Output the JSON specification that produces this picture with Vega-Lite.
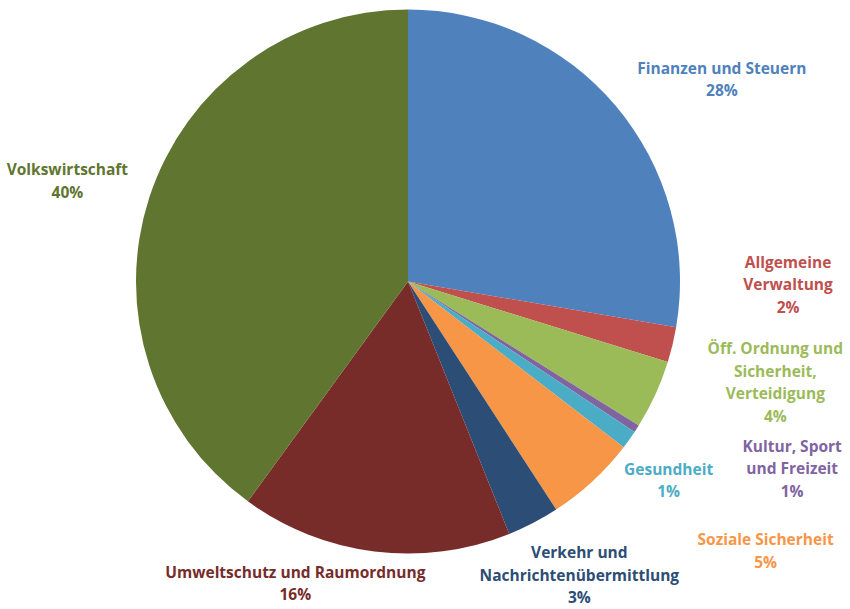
{
  "$schema": "https://vega.github.io/schema/vega-lite/v6.json",
  "width": 816,
  "height": 563,
  "autosize": {"type": "none"},
  "padding": {"left": 0, "top": 0, "right": 34, "bottom": 46},
  "background": "white",
  "config": {"view": {"stroke": null}, "text": {"font": "Open Sans", "fontWeight": "bold", "fontSize": 15.5, "lineHeight": 22.5, "align": "center", "baseline": "middle"}},
  "data": {
    "values": [
      {"order": 1, "cat": "Finanzen und Steuern", "value": 27.7, "label": ["Finanzen und Steuern", "28%"]},
      {"order": 2, "cat": "Allgemeine Verwaltung", "value": 2.1, "label": ["Allgemeine", "Verwaltung", "2%"]},
      {"order": 3, "cat": "Öff. Ordnung und Sicherheit, Verteidigung", "value": 4.1, "label": ["Öff. Ordnung und", "Sicherheit,", "Verteidigung", "4%"]},
      {"order": 4, "cat": "Kultur, Sport und Freizeit", "value": 0.45, "label": ["Kultur, Sport", "und Freizeit", "1%"]},
      {"order": 5, "cat": "Gesundheit", "value": 1.1, "label": ["Gesundheit", "1%"]},
      {"order": 6, "cat": "Soziale Sicherheit", "value": 5.4, "label": ["Soziale Sicherheit", "5%"]},
      {"order": 7, "cat": "Verkehr und Nachrichtenübermittlung", "value": 3.1, "label": ["Verkehr und", "Nachrichtenübermittlung", "3%"]},
      {"order": 8, "cat": "Umweltschutz und Raumordnung", "value": 16.1, "label": ["Umweltschutz und Raumordnung", "16%"]},
      {"order": 9, "cat": "Volkswirtschaft", "value": 40.0, "label": ["Volkswirtschaft", "40%"]}
    ]
  },
  "encoding": {
    "theta": {"field": "value", "type": "quantitative", "stack": true},
    "order": {"field": "order", "type": "quantitative"},
    "color": {
      "field": "cat",
      "type": "nominal",
      "legend": null,
      "scale": {
        "domain": ["Finanzen und Steuern", "Allgemeine Verwaltung", "Öff. Ordnung und Sicherheit, Verteidigung", "Kultur, Sport und Freizeit", "Gesundheit", "Soziale Sicherheit", "Verkehr und Nachrichtenübermittlung", "Umweltschutz und Raumordnung", "Volkswirtschaft"],
        "range": ["#4F81BD", "#C0504D", "#9BBB59", "#8064A2", "#4BACC6", "#F79646", "#2C4D75", "#772C2A", "#5F7530"]
      }
    }
  },
  "layer": [
    {"mark": {"type": "arc", "outerRadius": 272}},
    {"mark": {"type": "text", "radius": 272, "dx": 106, "dy": -37.25},
     "encoding": {"text": {"condition": {"test": "datum.order === 1", "field": "label"}, "value": ""}}},
    {"mark": {"type": "text", "radius": 272, "dx": 115.5, "dy": -82},
     "encoding": {"text": {"condition": {"test": "datum.order === 2", "field": "label"}, "value": ""}}},
    {"mark": {"type": "text", "radius": 272, "dx": 120, "dy": -45.25},
     "encoding": {"text": {"condition": {"test": "datum.order === 3", "field": "label"}, "value": ""}}},
    {"mark": {"type": "text", "radius": 272, "dx": 155.5, "dy": 18},
     "encoding": {"text": {"condition": {"test": "datum.order === 4", "field": "label"}, "value": ""}}},
    {"mark": {"type": "text", "radius": 272, "dx": 39.4, "dy": 30.25},
     "encoding": {"text": {"condition": {"test": "datum.order === 5", "field": "label"}, "value": ""}}},
    {"mark": {"type": "text", "radius": 272, "dx": 173, "dy": 58.75},
     "encoding": {"text": {"condition": {"test": "datum.order === 6", "field": "label"}, "value": ""}}},
    {"mark": {"type": "text", "radius": 272, "dx": 46, "dy": 30.5},
     "encoding": {"text": {"condition": {"test": "datum.order === 7", "field": "label"}, "value": ""}}},
    {"mark": {"type": "text", "radius": 272, "dx": -79, "dy": 21.35},
     "encoding": {"text": {"condition": {"test": "datum.order === 8", "field": "label"}, "value": ""}}},
    {"mark": {"type": "text", "radius": 272, "dx": -82, "dy": -27.25},
     "encoding": {"text": {"condition": {"test": "datum.order === 9", "field": "label"}, "value": ""}}}
  ]
}
